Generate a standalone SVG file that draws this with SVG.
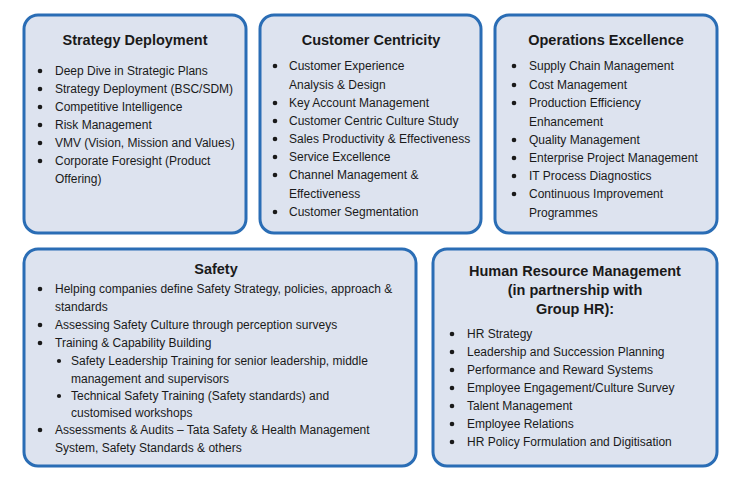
<svg xmlns="http://www.w3.org/2000/svg" width="740" height="485" viewBox="0 0 740 485">
<style>
.box{fill:#dde3ef;stroke:#2a6db5;stroke-width:3}
text{font-family:"Liberation Sans",Arial,sans-serif;font-size:12px;fill:#1a1a1a}
.t{font-size:14.5px;font-weight:bold;text-anchor:middle}
</style>
<rect width="740" height="485" fill="#fff"/>
<g id="strategy">
<rect class="box" x="24" y="15" width="222" height="218" rx="14"/>
<text class="t" x="135" y="45">Strategy Deployment</text>
<g fill="#1a1a1a"><circle cx="40" cy="71" r="2.3"/><circle cx="40" cy="89" r="2.3"/><circle cx="40" cy="107" r="2.3"/><circle cx="40" cy="125" r="2.3"/><circle cx="40" cy="143" r="2.3"/><circle cx="40" cy="161" r="2.3"/></g>
<text x="55" y="75">Deep Dive in Strategic Plans</text>
<text x="55" y="93">Strategy Deployment (BSC/SDM)</text>
<text x="55" y="111">Competitive Intelligence</text>
<text x="55" y="129">Risk Management</text>
<text x="55" y="147">VMV (Vision, Mission and Values)</text>
<text x="55" y="165">Corporate Foresight (Product</text>
<text x="55" y="183">Offering)</text>
</g>
<g id="customer">
<rect class="box" x="260" y="15" width="221" height="218" rx="14"/>
<text class="t" x="371" y="45">Customer Centricity</text>
<g fill="#1a1a1a"><circle cx="275" cy="66" r="2.3"/><circle cx="275" cy="103" r="2.3"/><circle cx="275" cy="121" r="2.3"/><circle cx="275" cy="139" r="2.3"/><circle cx="275" cy="157" r="2.3"/><circle cx="275" cy="175" r="2.3"/><circle cx="275" cy="212" r="2.3"/></g>
<text x="289" y="70">Customer Experience</text>
<text x="289" y="89">Analysis &amp; Design</text>
<text x="289" y="107">Key Account Management</text>
<text x="289" y="125">Customer Centric Culture Study</text>
<text x="289" y="143">Sales Productivity &amp; Effectiveness</text>
<text x="289" y="161">Service Excellence</text>
<text x="289" y="179">Channel Management &amp;</text>
<text x="289" y="198">Effectiveness</text>
<text x="289" y="216">Customer Segmentation</text>
</g>
<g id="operations">
<rect class="box" x="495" y="15" width="222" height="218" rx="14"/>
<text class="t" x="606" y="45">Operations Excellence</text>
<g fill="#1a1a1a"><circle cx="514" cy="66" r="2.3"/><circle cx="514" cy="85" r="2.3"/><circle cx="514" cy="103" r="2.3"/><circle cx="514" cy="140" r="2.3"/><circle cx="514" cy="158" r="2.3"/><circle cx="514" cy="176" r="2.3"/><circle cx="514" cy="194" r="2.3"/></g>
<text x="529" y="70">Supply Chain Management</text>
<text x="529" y="89">Cost Management</text>
<text x="529" y="107">Production Efficiency</text>
<text x="529" y="126">Enhancement</text>
<text x="529" y="144">Quality Management</text>
<text x="529" y="162">Enterprise Project Management</text>
<text x="529" y="180">IT Process Diagnostics</text>
<text x="529" y="198">Continuous Improvement</text>
<text x="529" y="217">Programmes</text>
</g>
<g id="safety">
<rect class="box" x="24" y="249" width="392" height="217" rx="14"/>
<text class="t" x="216" y="274">Safety</text>
<g fill="#1a1a1a"><circle cx="40" cy="289" r="2.3"/><circle cx="40" cy="325" r="2.3"/><circle cx="40" cy="343" r="2.3"/><circle cx="59" cy="361" r="2.1"/><circle cx="59" cy="396" r="2.1"/><circle cx="40" cy="430" r="2.3"/></g>
<text x="55" y="293">Helping companies define Safety Strategy, policies, approach &amp;</text>
<text x="55" y="311">standards</text>
<text x="55" y="329">Assessing Safety Culture through perception surveys</text>
<text x="55" y="347">Training &amp; Capability Building</text>
<text x="71" y="365">Safety Leadership Training for senior leadership, middle</text>
<text x="71" y="383">management and supervisors</text>
<text x="71" y="400">Technical Safety Training (Safety standards) and</text>
<text x="71" y="417">customised workshops</text>
<text x="55" y="434">Assessments &amp; Audits – Tata Safety &amp; Health Management</text>
<text x="55" y="452">System, Safety Standards &amp; others</text>
</g>
<g id="hr">
<rect class="box" x="433" y="249" width="284" height="217" rx="14"/>
<text class="t" x="575" y="276">Human Resource Management</text>
<text class="t" x="575" y="295">(in partnership with</text>
<text class="t" x="575" y="314">Group HR):</text>
<g fill="#1a1a1a"><circle cx="452" cy="334" r="2.3"/><circle cx="452" cy="352" r="2.3"/><circle cx="452" cy="370" r="2.3"/><circle cx="452" cy="388" r="2.3"/><circle cx="452" cy="406" r="2.3"/><circle cx="452" cy="424" r="2.3"/><circle cx="452" cy="442" r="2.3"/></g>
<text x="467" y="338">HR Strategy</text>
<text x="467" y="356">Leadership and Succession Planning</text>
<text x="467" y="374">Performance and Reward Systems</text>
<text x="467" y="392">Employee Engagement/Culture Survey</text>
<text x="467" y="410">Talent Management</text>
<text x="467" y="428">Employee Relations</text>
<text x="467" y="446">HR Policy Formulation and Digitisation</text>
</g>
<g id="connectors"/>
</svg>
